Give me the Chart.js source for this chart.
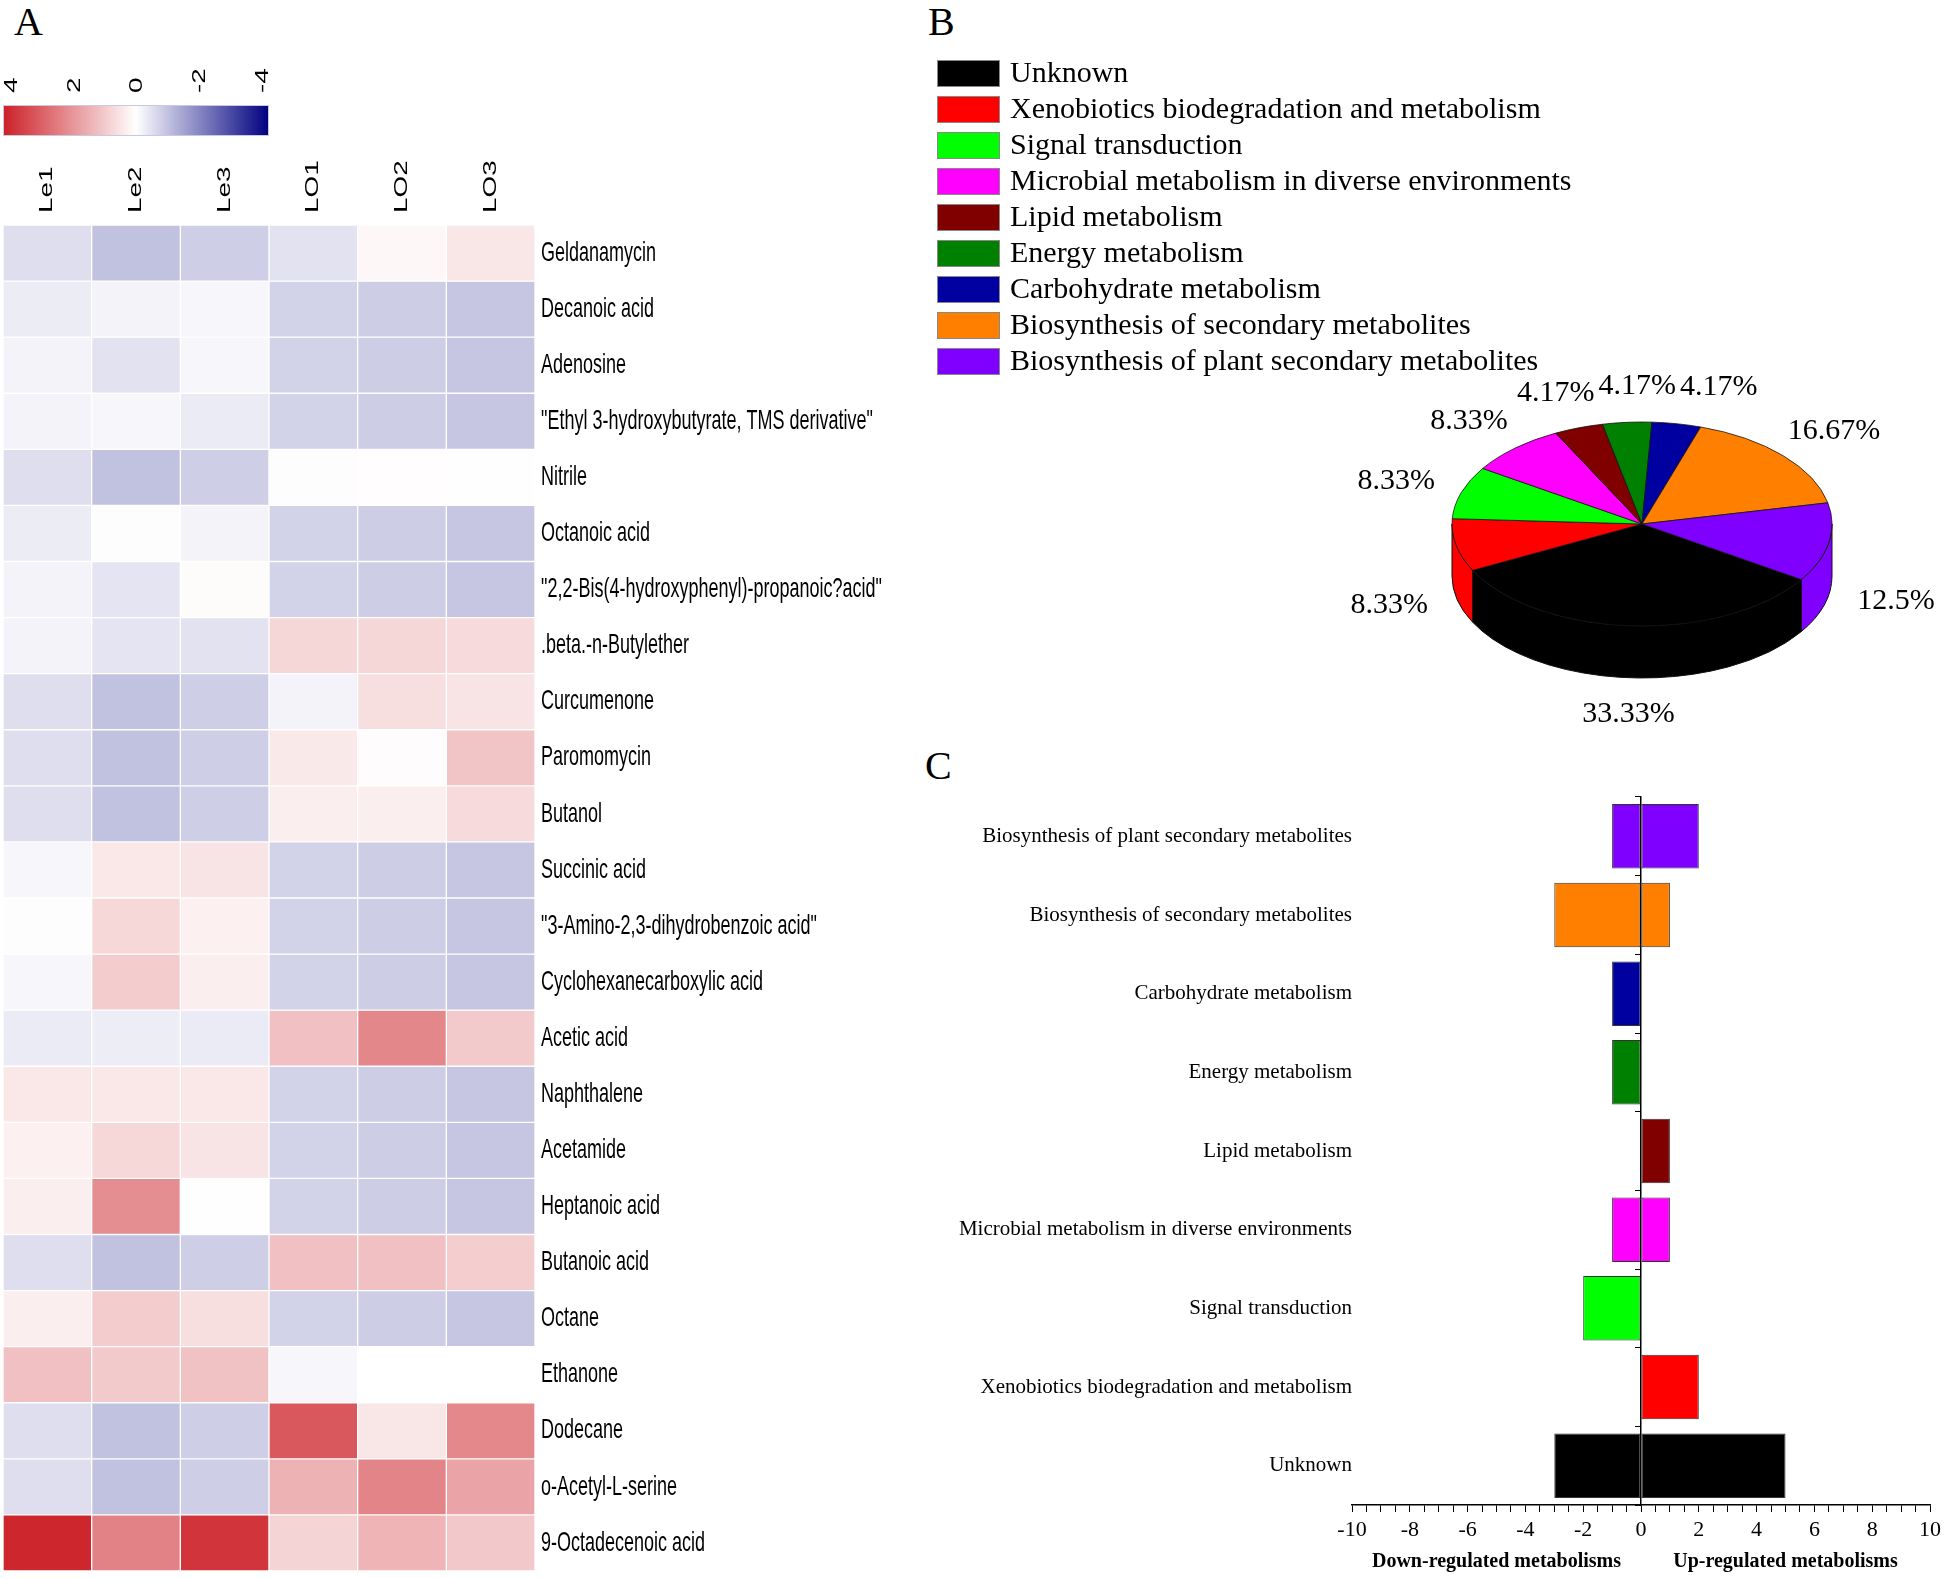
<!DOCTYPE html>
<html lang="en">
<head>
    <meta charset="UTF-8">
    <title>Metabolites heatmap and pathway summary</title>
    <style>
        body {
            margin: 0;
            padding: 0;
            background-color: #fff;
        }
        #page {
            position: relative;
            width: 1946px;
            height: 1579px;
            overflow: hidden;
        }
        #page canvas {
            position: absolute;
        }
        .tag {
            position: absolute;
            font-family: "Liberation Serif", "Times New Roman", serif;
            font-size: 40px;
            line-height: 40px;
            color: #000;
        }
    </style>
</head>
<body>
    <div id="page">
        <div class="tag" style="left:14px; top:2px;">A</div>
        <div class="tag" style="left:928px; top:2px;">B</div>
        <div class="tag" style="left:925px; top:746px;">C</div>
        <canvas id="heat" width="930" height="1579" style="left:0; top:0;"></canvas>
        <canvas id="pie" width="1016" height="760" style="left:930px; top:0;"></canvas>
        <canvas id="bars" width="1016" height="819" style="left:930px; top:760px;"></canvas>
    </div>

    <script src="https://cdn.jsdelivr.net/npm/chart.js"></script>
    <script>
        // ---- data: heatmap (A) ----
        const samples = ['Le1', 'Le2', 'Le3', 'LO1', 'LO2', 'LO3'];
        const compounds = [
            'Geldanamycin', 'Decanoic acid', 'Adenosine', '"Ethyl 3-hydroxybutyrate, TMS derivative"',
            'Nitrile', 'Octanoic acid', '"2,2-Bis(4-hydroxyphenyl)-propanoic?acid"', '.beta.-n-Butylether',
            'Curcumenone', 'Paromomycin', 'Butanol', 'Succinic acid',
            '"3-Amino-2,3-dihydrobenzoic acid"', 'Cyclohexanecarboxylic acid', 'Acetic acid', 'Naphthalene',
            'Acetamide', 'Heptanoic acid', 'Butanoic acid', 'Octane',
            'Ethanone', 'Dodecane', 'o-Acetyl-L-serine', '9-Octadecenoic acid'
        ];
        // one row per compound, columns follow samples
        const heatValues = [
            [-0.52, -0.97, -0.77, -0.45, 0.15, 0.45],
            [-0.30, -0.19, -0.14, -0.71, -0.78, -0.89],
            [-0.19, -0.45, -0.14, -0.71, -0.78, -0.89],
            [-0.19, -0.12, -0.31, -0.71, -0.78, -0.89],
            [-0.52, -0.97, -0.77, 0.04, 0.03, 0.02],
            [-0.30, -0.03, -0.19, -0.71, -0.78, -0.89],
            [-0.19, -0.42, 0.08, -0.71, -0.78, -0.89],
            [-0.19, -0.42, -0.45, 0.72, 0.72, 0.66],
            [-0.52, -0.97, -0.77, -0.19, 0.60, 0.48],
            [-0.52, -0.97, -0.77, 0.40, 0.05, 1.06],
            [-0.52, -0.97, -0.77, 0.30, 0.30, 0.66],
            [-0.14, 0.42, 0.48, -0.71, -0.78, -0.89],
            [-0.03, 0.70, 0.27, -0.71, -0.78, -0.89],
            [-0.14, 0.92, 0.30, -0.71, -0.78, -0.89],
            [-0.31, -0.28, -0.31, 1.13, 2.15, 0.95],
            [0.42, 0.42, 0.42, -0.71, -0.78, -0.89],
            [0.27, 0.70, 0.48, -0.71, -0.78, -0.89],
            [0.30, 2.03, 0.02, -0.71, -0.78, -0.89],
            [-0.52, -0.97, -0.77, 1.13, 1.13, 0.88],
            [0.30, 0.92, 0.60, -0.71, -0.78, -0.89],
            [1.13, 0.95, 1.10, -0.14, 0.00, 0.00],
            [-0.52, -0.97, -0.77, 3.00, 0.45, 2.13],
            [-0.52, -0.97, -0.77, 1.38, 2.20, 1.63],
            [3.90, 2.24, 3.64, 0.77, 1.35, 0.99]
        ];
        const keyTicks = [4, 2, 0, -2, -4];

        // ---- data: pathways (B and C) ----
        const pathways = [
            'Unknown', 'Xenobiotics biodegradation and metabolism', 'Signal transduction',
            'Microbial metabolism in diverse environments', 'Lipid metabolism', 'Energy metabolism',
            'Carbohydrate metabolism', 'Biosynthesis of secondary metabolites',
            'Biosynthesis of plant secondary metabolites'
        ];
        const pathwayColors = ['#000000', '#ff0000', '#00ff00', '#ff00ff', '#800000', '#008000', '#0000a0', '#ff8000', '#8000ff'];
        const pieCounts = [8, 2, 2, 2, 1, 1, 1, 4, 3];
        const downRegulated = [-3, 0, -2, -1, 0, -1, -1, -3, -1];
        const upRegulated = [5, 2, 0, 1, 1, 0, 0, 1, 2];
        const xTicksMajor = 2;

        const SERIF = '"Liberation Serif", "Times New Roman", serif';
        const SANS = '"Liberation Sans", Arial, sans-serif';
        Chart.defaults.font.family = SERIF;
        Chart.defaults.color = '#000';

        // colour scale: red (+4) -> white (0) -> navy (-4)
        function heatColor(v) {
            const t = Math.min(Math.abs(v) / 4, 1);
            const end = v >= 0 ? [204, 32, 39] : [0, 0, 128];
            const c = end.map(e => Math.round(255 + (e - 255) * t));
            return `rgb(${c[0]},${c[1]},${c[2]})`;
        }

        // text in panel A looks stretched vertically
        const STRETCH = 1.55;

        const heatLabels = {
            id: 'heatLabels',
            afterDraw(chart) {
                const ctx = chart.ctx;
                const xs = chart.scales.x, ys = chart.scales.y;
                const area = chart.chartArea;
                ctx.save();
                ctx.fillStyle = '#000';
                ctx.font = '18px ' + SANS;
                ctx.textBaseline = 'middle';
                ctx.textAlign = 'left';

                // row names
                compounds.forEach((name, i) => {
                    ctx.save();
                    ctx.translate(area.right + 6, ys.getPixelForValue(i + 0.5));
                    ctx.scale(1, STRETCH);
                    ctx.fillText(name, 0, 0);
                    ctx.restore();
                });

                // sample names
                samples.forEach((s, j) => {
                    ctx.save();
                    ctx.translate(xs.getPixelForValue(j), area.top - 12);
                    ctx.scale(1, STRETCH);
                    ctx.rotate(-Math.PI / 2);
                    ctx.fillText(s, 0, 0);
                    ctx.restore();
                });

                // colour key
                const kx = 3, kw = 266, ky = 105, kh = 31;
                const grad = ctx.createLinearGradient(kx, 0, kx + kw, 0);
                for (let v = 4; v >= -4; v -= 0.5) {
                    grad.addColorStop((4 - v) / 8, heatColor(v));
                }
                ctx.fillStyle = grad;
                ctx.fillRect(kx, ky, kw, kh);
                ctx.strokeStyle = '#c8c8e0';
                ctx.lineWidth = 1;
                ctx.strokeRect(kx + 0.5, ky + 0.5, kw - 1, kh - 1);

                ctx.fillStyle = '#000';
                keyTicks.forEach(v => {
                    ctx.save();
                    ctx.translate(137.5 - v * 31.4, 93);
                    ctx.scale(1, STRETCH);
                    ctx.rotate(-Math.PI / 2);
                    ctx.fillText(String(v), 0, 0);
                    ctx.restore();
                });
                ctx.restore();
            }
        };

        new Chart(document.getElementById('heat'), {
            type: 'bar',
            data: {
                labels: samples,
                datasets: compounds.map((name, i) => ({
                    label: name,
                    data: samples.map(() => 1),
                    backgroundColor: heatValues[i].map(heatColor),
                    borderColor: '#ffffff',
                    borderWidth: 1,
                    borderSkipped: false,
                    categoryPercentage: 1,
                    barPercentage: 1
                }))
            },
            options: {
                responsive: false,
                animation: false,
                events: [],
                layout: { padding: { left: 3, right: 395, top: 225, bottom: 8 } },
                scales: {
                    x: { stacked: true, display: false },
                    y: { stacked: true, display: false, reverse: true, min: 0, max: compounds.length }
                },
                plugins: { legend: { display: false }, tooltip: { enabled: false } }
            },
            plugins: [heatLabels]
        });

        // ---- B: tilted pie ----
        const TILT = 102 / 190;
        const DEPTH = 52;
        const LABEL_R = 1.36;

        const pie3d = {
            id: 'pie3d',
            beforeDatasetsDraw(chart) {
                const ctx = chart.ctx;
                const arcs = chart.getDatasetMeta(0).data;
                const cx = arcs[0].x, cy = arcs[0].y;
                // side wall, only the front half is visible
                arcs.forEach(arc => {
                    const R = arc.outerRadius, ry = R * TILT;
                    for (let k = -1; k <= 2; k++) {
                        const lo = Math.max(arc.startAngle, 2 * Math.PI * k);
                        const hi = Math.min(arc.endAngle, 2 * Math.PI * k + Math.PI);
                        if (hi <= lo) continue;
                        ctx.beginPath();
                        ctx.ellipse(cx, cy, R, ry, 0, lo, hi);
                        ctx.ellipse(cx, cy + DEPTH, R, ry, 0, hi, lo, true);
                        ctx.closePath();
                        ctx.fillStyle = arc.options.backgroundColor;
                        ctx.fill();
                        ctx.strokeStyle = '#111';
                        ctx.lineWidth = 1;
                        ctx.stroke();
                    }
                });
                // squash the top face into an ellipse
                ctx.save();
                ctx.translate(cx, cy);
                ctx.scale(1, TILT);
                ctx.translate(-cx, -cy);
            },
            afterDatasetsDraw(chart) {
                const ctx = chart.ctx;
                ctx.restore();

                const arcs = chart.getDatasetMeta(0).data;
                const values = chart.data.datasets[0].data;
                const total = values.reduce((a, b) => a + b, 0);
                const cx = arcs[0].x, cy = arcs[0].y;

                ctx.save();
                ctx.font = '30px ' + SERIF;
                ctx.fillStyle = '#000';
                ctx.textAlign = 'center';
                ctx.textBaseline = 'middle';
                const placed = [];
                arcs.forEach((arc, i) => {
                    const mid = (arc.startAngle + arc.endAngle) / 2;
                    const c = Math.cos(mid), s = Math.sin(mid);
                    let x = cx + LABEL_R * arc.outerRadius * c;
                    const y = cy + LABEL_R * arc.outerRadius * TILT * s + (s > 0 ? DEPTH : 0);
                    const text = `${+(values[i] / total * 100).toFixed(2)}%`;
                    const w = ctx.measureText(text).width + 4, h = 26;
                    placed.forEach(p => {
                        if (Math.abs(p.y - y) < h && Math.abs(p.x - x) < (p.w + w) / 2) {
                            x = p.x + (x >= p.x ? 1 : -1) * (p.w + w) / 2;
                        }
                    });
                    placed.push({ x, y, w });
                    ctx.fillText(text, x, y);
                });

                // legend list
                ctx.textAlign = 'left';
                chart.data.labels.forEach((label, i) => {
                    const top = 60 + i * 36;
                    ctx.fillStyle = pathwayColors[i];
                    ctx.fillRect(7, top, 63, 27);
                    ctx.strokeStyle = '#888';
                    ctx.lineWidth = 1;
                    ctx.strokeRect(7.5, top + 0.5, 62, 26);
                    ctx.fillStyle = '#000';
                    ctx.fillText(label, 80, top + 14);
                });
                ctx.restore();
            }
        };

        new Chart(document.getElementById('pie'), {
            type: 'pie',
            data: {
                labels: pathways,
                datasets: [{
                    data: pieCounts,
                    backgroundColor: pathwayColors,
                    borderColor: '#111',
                    borderWidth: 1
                }]
            },
            options: {
                responsive: false,
                animation: false,
                events: [],
                rotation: 123,
                radius: 190,
                layout: { padding: { left: 521, right: 113, top: 333, bottom: 45 } },
                plugins: { legend: { display: false }, tooltip: { enabled: false } }
            },
            plugins: [pie3d]
        });

        // ---- C: down / up regulated bars ----
        const barLabels = pathways.slice().reverse();
        const barColors = pathwayColors.slice().reverse();
        const zeroToNull = v => (v === 0 ? null : v);

        const sideTitles = {
            id: 'sideTitles',
            afterDraw(chart) {
                const ctx = chart.ctx, xs = chart.scales.x;
                ctx.save();
                ctx.font = 'bold 20px ' + SERIF;
                ctx.fillStyle = '#000';
                ctx.textAlign = 'center';
                ctx.textBaseline = 'middle';
                ctx.fillText('Down-regulated metabolisms', xs.getPixelForValue(-5), 802);
                ctx.fillText('Up-regulated metabolisms', xs.getPixelForValue(5), 802);
                ctx.restore();
            }
        };

        new Chart(document.getElementById('bars'), {
            type: 'bar',
            data: {
                labels: barLabels,
                datasets: [
                    {
                        label: 'Down',
                        data: downRegulated.slice().reverse().map(zeroToNull),
                        backgroundColor: barColors,
                        borderColor: '#333',
                        borderWidth: 1,
                        borderSkipped: false
                    },
                    {
                        label: 'Up',
                        data: upRegulated.slice().reverse().map(zeroToNull),
                        backgroundColor: barColors,
                        borderColor: '#333',
                        borderWidth: 1,
                        borderSkipped: false
                    }
                ]
            },
            options: {
                indexAxis: 'y',
                responsive: false,
                animation: false,
                events: [],
                categoryPercentage: 1,
                barPercentage: 0.82,
                layout: { padding: { left: 0, right: 14, top: 37, bottom: 0 } },
                scales: {
                    x: {
                        type: 'linear',
                        stacked: true,
                        min: -10,
                        max: 10,
                        afterFit: s => { s.height = 74; },
                        grid: { drawOnChartArea: false, drawTicks: true, tickLength: 7, color: '#000', tickWidth: 1 },
                        border: { display: true, color: '#000', width: 1.5 },
                        ticks: {
                            stepSize: 0.5,
                            autoSkip: false,
                            maxRotation: 0,
                            padding: 5,
                            font: { size: 22 },
                            callback: v => (Math.abs(v % xTicksMajor) < 1e-9 ? String(v) : '')
                        }
                    },
                    y: {
                        stacked: true,
                        afterFit: s => { s.width = 422; },
                        grid: { display: false, drawTicks: false },
                        border: { display: false },
                        ticks: { padding: 0, font: { size: 21 } }
                    },
                    y2: {
                        axis: 'y',
                        type: 'category',
                        labels: barLabels,
                        offset: true,
                        position: { x: 0 },
                        grid: { offset: true, drawOnChartArea: false, drawTicks: true, tickLength: 5, color: '#000', z: 1 },
                        border: { display: true, color: '#000', width: 1.5, z: 1 },
                        ticks: { display: false }
                    }
                },
                plugins: { legend: { display: false }, tooltip: { enabled: false } }
            },
            plugins: [sideTitles]
        });
    </script>
</body>
</html>
